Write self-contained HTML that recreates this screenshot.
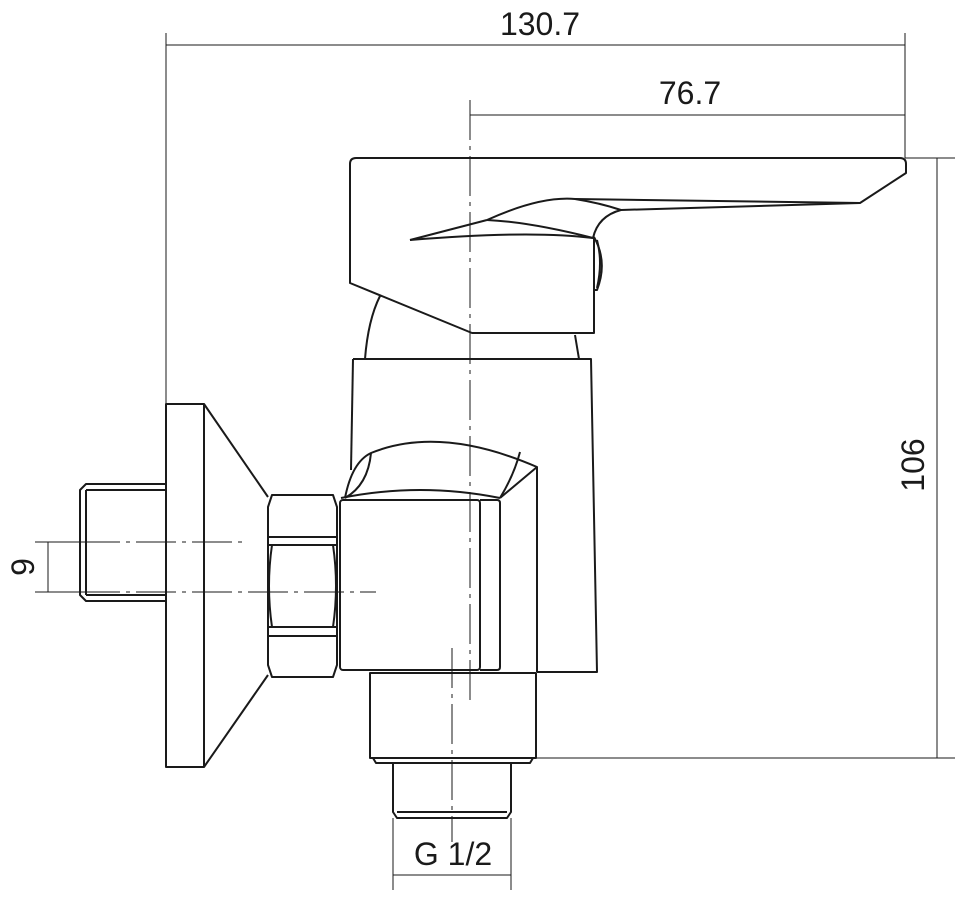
<!DOCTYPE html>
<html><head><meta charset="utf-8"><style>
html,body{margin:0;padding:0;background:#fff;}
svg{display:block;}
text{font-family:"Liberation Sans",sans-serif;fill:#1a1a1a;}
</style></head><body>
<svg width="960" height="899" viewBox="0 0 960 899" xmlns="http://www.w3.org/2000/svg">
<g fill="none" stroke="#1a1a1a" stroke-linejoin="round">
<g stroke-width="1">
<line x1="166" y1="45" x2="905" y2="45"/>
<line x1="166" y1="33" x2="166" y2="404"/>
<line x1="905" y1="33" x2="905" y2="158"/>
<line x1="470" y1="115" x2="905" y2="115"/>
<line x1="905" y1="158" x2="955" y2="158"/>
<line x1="536" y1="758" x2="955" y2="758"/>
<line x1="937" y1="158" x2="937" y2="758"/>
<line x1="35" y1="542" x2="80" y2="542"/>
<line x1="35" y1="592" x2="80" y2="592"/>
<line x1="48" y1="542" x2="48" y2="592"/>
<line x1="393" y1="818" x2="393" y2="890"/>
<line x1="511" y1="818" x2="511" y2="890"/>
<line x1="393" y1="875" x2="511" y2="875"/>
<line x1="470" y1="100" x2="470" y2="700" stroke-dasharray="40,6,4,6"/>
<line x1="80" y1="542" x2="245" y2="542" stroke-dasharray="40,6,4,6"/>
<line x1="80" y1="592" x2="376" y2="592" stroke-dasharray="40,6,4,6"/>
<line x1="452" y1="648" x2="452" y2="842" stroke-dasharray="40,6,4,6"/>
</g>
<g stroke-width="2">
<path d="M350,164 Q350,158 356,158 L900,158 Q906,158 906,164 L906,173 L860,203 L575,199"/>
<path d="M350,164 L350,283 L472,333 L594,333 L594,237"/>
<path d="M621,210 L860,203"/>
<path d="M487,220 Q540,196 575,199 Q600,203 621,210 Q598,216 593,238"/>
<path d="M487,220 Q530,222 593,238"/>
<path d="M410,240 L487,220"/>
<path d="M410,240 Q530,230 593,238"/>
<path d="M594,237 Q608,262 597,290 L594,290"/>
<path d="M597,240 Q603,262 597,288"/>
<path d="M380,296 Q368,320 365,359"/>
<path d="M575,335 L579,359"/>
<path d="M353,359 L591,359 L597,672 L537,672"/>
<path d="M353,359 L351,470"/>
<path d="M345,498 Q352,462 371,453 Q440,425 537,467 L500,498"/>
<path d="M341,498 Q420,482 500,498"/>
<path d="M371,453 Q368,485 345,498"/>
<path d="M537,467 L537,672"/>
<path d="M520,452 Q514,475 500,498"/>
<rect x="340" y="500" width="140" height="170" rx="3"/>
<path d="M480,500 L497,500 Q500,500 500,503 L500,667 Q500,670 497,670 L480,670"/>
<rect x="370" y="673" width="166" height="85"/>
<path d="M373,758 L376,763 L530,763 L533,758"/>
<path d="M393,763 L393,812 L397,818 L507,818 L511,812 L511,763"/>
<line x1="397" y1="812" x2="507" y2="812"/>
<rect x="166" y="404" width="38" height="363"/>
<path d="M204,404 L268,497 M204,767 L268,675"/>
<path d="M268,507 L272,495 L333,495 L337,507 L337,665 L333,677 L272,677 L268,665 Z"/>
<line x1="268" y1="537" x2="337" y2="537"/>
<line x1="268" y1="545" x2="337" y2="545"/>
<line x1="268" y1="627" x2="337" y2="627"/>
<line x1="268" y1="636" x2="337" y2="636"/>
<path d="M272,545 Q266,586 272,627 M333,545 Q339,586 333,627"/>
<path d="M166,484 L86,484 L80,490 L80,595 L86,601 L166,601"/>
<line x1="86" y1="490" x2="166" y2="490"/>
<line x1="86" y1="595" x2="166" y2="595"/>
<line x1="86" y1="490" x2="86" y2="595"/>
</g>
</g>
<text x="540" y="35" font-size="32" text-anchor="middle">130.7</text>
<text x="690" y="104" font-size="32" text-anchor="middle">76.7</text>
<text x="453" y="865" font-size="32" text-anchor="middle">G 1/2</text>
<text transform="translate(924,465) rotate(-90)" font-size="32" text-anchor="middle">106</text>
<text transform="translate(34,567) rotate(-90)" font-size="32" text-anchor="middle">9</text>
</svg>
</body></html>
